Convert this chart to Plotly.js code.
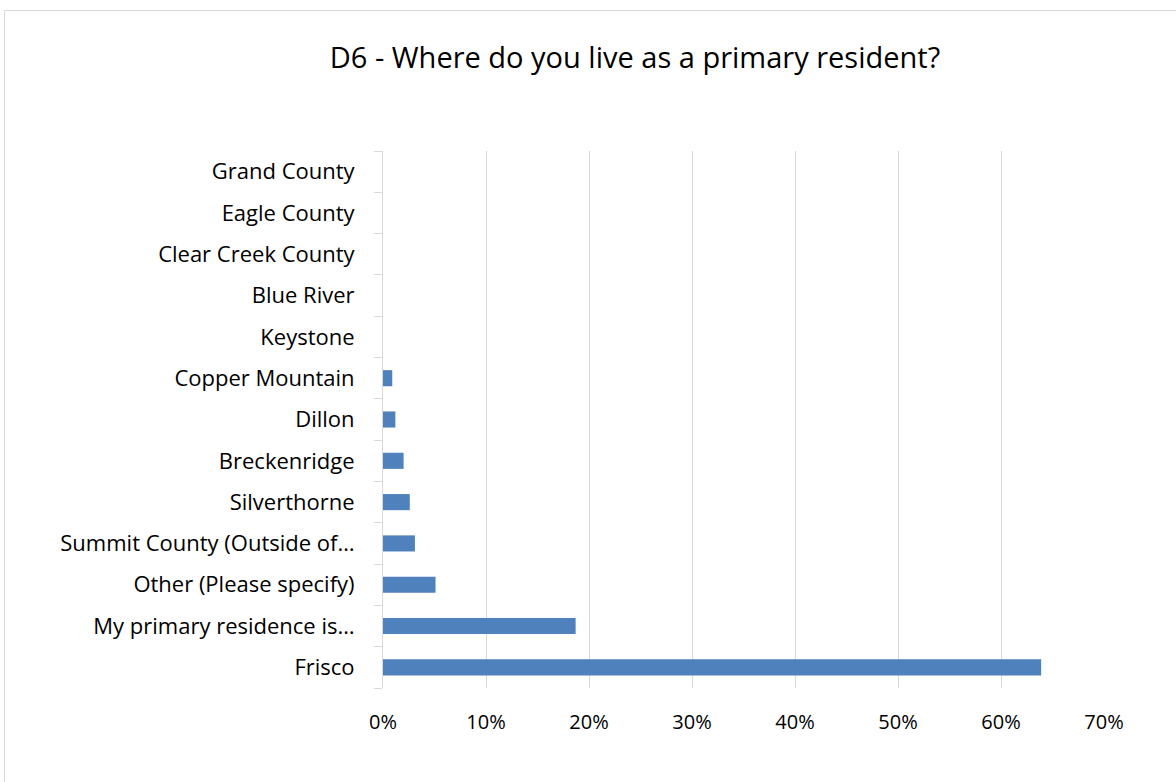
<!DOCTYPE html>
<html>
<head>
<meta charset="utf-8">
<script src="https://cdn.plot.ly/plotly-3.0.1.min.js"></script>
<style>
html,body{margin:0;padding:0;background:#fff;overflow:hidden;}
#frame{position:absolute;left:4px;top:10px;width:1200px;height:800px;border-left:1px solid #d9d9d9;border-top:1px solid #d9d9d9;pointer-events:none;}
#chart{position:absolute;left:0;top:0;width:1176px;height:782px;}
</style>
</head>
<body>
<div id="chart"></div>
<div id="frame"></div>
<script>
// Categories listed bottom to top (as drawn on the y axis)
const categories = [
  "Frisco",
  "My primary residence is…",
  "Other (Please specify)",
  "Summit County (Outside of…",
  "Silverthorne",
  "Breckenridge",
  "Dillon",
  "Copper Mountain",
  "Keystone",
  "Blue River",
  "Clear Creek County",
  "Eagle County",
  "Grand County"
];
const shares = [0.639, 0.187, 0.051, 0.031, 0.026, 0.020, 0.012, 0.009, 0, 0, 0, 0, 0];
const chartTitle = "D6 - Where do you live as a primary resident?";

const trace = {
  type: "bar",
  orientation: "h",
  y: categories,
  x: shares,
  marker: {color: "#4f81bd", line: {width: 0}},
  hoverinfo: "x+y"
};

const layout = {
  width: 1176,
  height: 782,
  margin: {l: 383, r: 72, t: 151, b: 94},
  paper_bgcolor: "#ffffff",
  plot_bgcolor: "#ffffff",
  font: {family: "Open Sans, Liberation Sans, sans-serif", color: "#000000"},
  title: {
    text: chartTitle,
    font: {size: 29, color: "#000000", family: "Open Sans, sans-serif"},
    x: 635/1176, xanchor: "center", xref: "container",
    y: 1 - 58/782, yanchor: "middle", yref: "container"
  },
  bargap: 0.61,
  showlegend: false,
  xaxis: {
    range: [0, 0.7],
    dtick: 0.1,
    tick0: 0,
    tickformat: ".0%",
    showgrid: true,
    gridcolor: "#d9d9d9",
    gridwidth: 1,
    zeroline: false,
    showline: false,
    ticks: "",
    ticklabelstandoff: 20,
    tickfont: {size: 20, color: "#000000"},
    fixedrange: true
  },
  yaxis: {
    type: "category",
    categoryorder: "array",
    categoryarray: categories,
    showline: true,
    linecolor: "#d9d9d9",
    linewidth: 1,
    showgrid: false,
    zeroline: false,
    ticks: "outside",
    tickson: "boundaries",
    ticklen: 8,
    tickcolor: "#d9d9d9",
    ticklabelstandoff: 23,
    tickfont: {size: 22, color: "#000000"},
    fixedrange: true
  }
};

Plotly.newPlot("chart", [trace], layout, {displayModeBar: false, staticPlot: true});
</script>
</body>
</html>
